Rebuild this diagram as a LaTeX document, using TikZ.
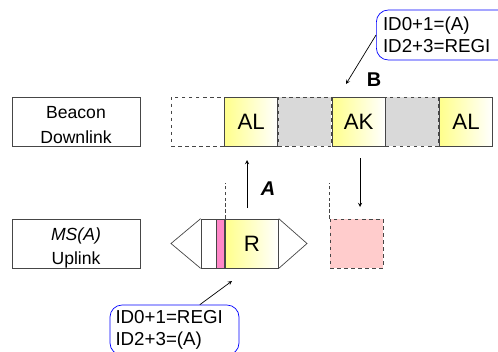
\documentclass[tikz,border=0pt]{standalone}
\usepackage{fontspec}
\setmainfont{Liberation Sans}
\usetikzlibrary{positioning}

\definecolor{slotyellow}{RGB}{255,255,140}
\definecolor{slotgray}{RGB}{217,217,217}
\definecolor{stripink}{RGB}{255,135,200}
\definecolor{losspink}{RGB}{255,204,204}
\definecolor{edgegray}{RGB}{70,70,70}

\begin{document}
\begin{tikzpicture}[x=0.3mm, y=-0.3mm, line width=0.6pt,
  namebox/.style={draw=edgegray, minimum width=38.4mm, minimum height=14.7mm, inner sep=0pt},
  nametext/.style={align=center, inner sep=0pt, font=\fontsize{15}{21}\selectfont},
  slot/.style={draw=edgegray, minimum width=15.9mm, minimum height=14.7mm,
    inner sep=0pt, font=\fontsize{19}{20}\selectfont},
  freeslot/.style={slot, dashed},
  busyslot/.style={slot, left color=slotyellow, right color=white},
  note/.style={draw=blue, rounded corners=3.6mm, align=left, inner sep=0pt,
    font=\fontsize{16}{19}\selectfont},
  guide/.style={edgegray, densely dashed, line width=0.5pt},
  tag/.style={font=\fontsize{17}{17}\selectfont\bfseries}]
\useasboundingbox (0,0) rectangle (498,351);

% channel names
\node[namebox] (down) at (76,121.5) {};
\node[nametext] (downtext) at (76,125) {Beacon\\Downlink};
\node[namebox] (up) at (76,243.5) {};
\node[nametext] (uptext) at (76,248) {\textit{MS(A)}\\Uplink};

% downlink slots
\node[freeslot] (d0) at (197.5,121.5) {};
\node[busyslot, right=0pt of d0] (d1) {AL};
\node[freeslot, fill=slotgray, right=0pt of d1] (d2) {};
\node[busyslot, right=0pt of d2] (d3) {AK};
\node[freeslot, fill=slotgray, right=0pt of d3] (d4) {};
\node[busyslot, right=0pt of d4] (d5) {AL};

% uplink burst
\node[draw=edgegray, fill=white, minimum width=4.5mm, minimum height=14.7mm, inner sep=0pt] (pre) at (208.5,243.5) {};
\node[draw=edgegray, fill=stripink, minimum width=2.4mm, minimum height=14.7mm, inner sep=0pt, right=0pt of pre] (strip) {};
\node[busyslot, right=0pt of strip] (rslot) {R};
\coordinate (ltip) at (171,243.5);
\coordinate (rtip) at (307,243.5);
\draw[edgegray] (pre.north west) -- (ltip) -- (pre.south west);
\draw[edgegray] (rslot.north east) -- (rtip) -- (rslot.south east);
\node[freeslot, fill=losspink] (lost) at (356.5,243.5) {};

% slot guides
\draw[guide] (rslot.north west) -- ++(0,-36);
\draw[guide] (lost.north west) -- ++(0,-36);

% access and answer
\coordinate (upfrom) at (247,208);
\coordinate (upto) at (247,160);
\coordinate (downfrom) at (360,158);
\coordinate (downto) at (360,207);
\draw[-stealth] (upfrom) -- (upto);
\draw[-stealth] (downfrom) -- (downto);
\node[tag, font=\fontsize{17}{17}\selectfont\bfseries\itshape] (la) at (268,189) {A};
\node[tag] (lb) at (374,80) {B};

% notes
\node[note, anchor=west, minimum width=42mm, minimum height=15mm, text width=38mm] (topnote) at (376,35) {ID0+1=(A)\\ID2+3=REGI};
\node[note, minimum width=38.7mm, minimum height=15mm, text width=35.4mm] (botnote) at (174.5,330) {ID0+1=REGI\\ID2+3=(A)};
\coordinate (bpoint) at (346,84);
\coordinate (rpoint) at (232,281);
\draw[-stealth] (topnote.west) -- (bpoint);
\draw[-stealth] (botnote.45) -- (rpoint);
\end{tikzpicture}
\end{document}
